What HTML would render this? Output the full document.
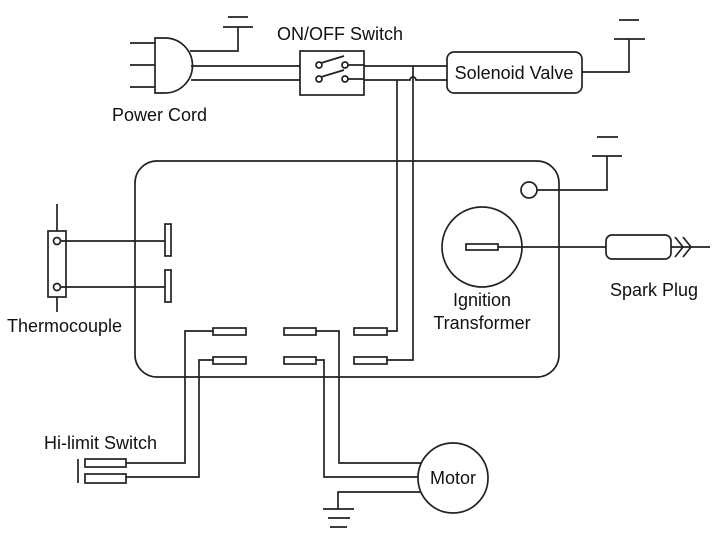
<!DOCTYPE html>
<html><head><style>body{margin:0;background:#fff}svg{display:block}text{font-family:"Liberation Sans",sans-serif;font-size:18px;fill:#111}</style></head>
<body>
<svg width="724" height="541" viewBox="0 0 724 541" fill="none" stroke="#222" stroke-width="1.7">
<path d="M130 43H155M130 65H155M130 87H155"/>
<path d="M155 38H165A27 27 0 0 1 165 93H155Z"/>
<path d="M190 51H238V27M223 27H253M228 17H248"/>
<path d="M191 66H300M191 80H300"/>
<rect x="300" y="51" width="64" height="44"/>
<circle cx="319" cy="65" r="3"/><circle cx="345" cy="65" r="3"/>
<circle cx="319" cy="79" r="3"/><circle cx="345" cy="79" r="3"/>
<path d="M321 63L344 56M321 77L344 70"/>
<path d="M348 65H364M348 79H364"/>
<path d="M364 66H447M364 80H410A3 3 0 0 1 416 80H447"/>
<path d="M397 80V331H387M413 66V360H387"/>
<rect x="447" y="52" width="135" height="41" rx="7"/>
<path d="M582 72H629V39M614 39H645M619 20H639"/>
<rect x="135" y="161" width="424" height="216" rx="22"/>
<path d="M57 204V231M57 297V312"/>
<rect x="48" y="231" width="18" height="66"/>
<circle cx="57" cy="241" r="3.5"/><circle cx="57" cy="287" r="3.5"/>
<path d="M60.5 241H165M60.5 287H165"/>
<rect x="165" y="224" width="6" height="32"/><rect x="165" y="270" width="6" height="32"/>
<rect x="213" y="328" width="33" height="7"/><rect x="284" y="328" width="32" height="7"/><rect x="354" y="328" width="33" height="7"/>
<rect x="213" y="357" width="33" height="7"/><rect x="284" y="357" width="32" height="7"/><rect x="354" y="357" width="33" height="7"/>
<path d="M213 331H185V463H126M213 360H199V477H126"/>
<path d="M316 331H339V463H421M316 360H324V477H418"/>
<path d="M78 459V483"/>
<rect x="85" y="459" width="41" height="8"/><rect x="85" y="474" width="41" height="9"/>
<circle cx="453" cy="478" r="35"/>
<path d="M421 492H338V509M323 509H354M328 518H350M330 527H347"/>
<circle cx="482" cy="247" r="40"/>
<rect x="466" y="244" width="32" height="6"/>
<path d="M498 247H606"/>
<rect x="606" y="235" width="65" height="24" rx="6"/>
<path d="M671 247H690M675 237L683 247L675 257M683 237L691 247L683 257M690 247H710"/>
<circle cx="529" cy="190" r="8"/>
<path d="M537 190H607V156M592 156H622M597 137H618"/>
<g stroke="none">
<text x="340" y="40" text-anchor="middle">ON/OFF Switch</text>
<text x="112" y="121">Power Cord</text>
<text x="514" y="79" text-anchor="middle">Solenoid Valve</text>
<text x="7" y="332">Thermocouple</text>
<text x="482" y="306" text-anchor="middle">Ignition</text>
<text x="482" y="329" text-anchor="middle">Transformer</text>
<text x="610" y="296">Spark Plug</text>
<text x="44" y="449">Hi-limit Switch</text>
<text x="453" y="484" text-anchor="middle">Motor</text>
</g>
</svg>
</body></html>
